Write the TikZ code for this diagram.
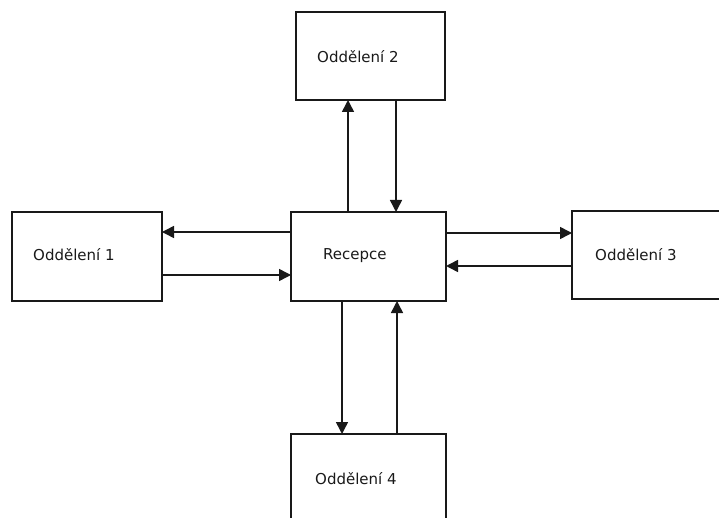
\documentclass[tikz,border=0pt]{standalone}
\usepackage{fontspec}
\setmainfont{DejaVu Sans}
\usetikzlibrary{arrows.meta}
\begin{document}
\begin{tikzpicture}[x=1pt,y=-1pt,
  box/.style={draw=black!90, line width=1.4pt, minimum width=#1, inner sep=0pt, outer sep=0pt, anchor=north west},
  lbl/.style={anchor=base west, inner sep=0pt, font=\fontsize{15}{18}\selectfont, text=black!90},
  conn/.style={draw=black!90, line width=1.5pt, -{Triangle[length=12pt,width=12pt]}}]
\useasboundingbox (0,0) rectangle (719,518);
\clip (0,0) rectangle (719,518);
% boxes
\node[box=149pt, minimum height=88pt] (o2) at (296,12) {};
\node[box=150pt, minimum height=89pt] (o1) at (12,212) {};
\node[box=155pt, minimum height=89pt] (rec) at (291,212) {};
\node[box=160pt, minimum height=88pt] (o3) at (572,211) {};
\node[box=155pt, minimum height=100pt] (o4) at (291,434) {};
% texts
\node[lbl] (t2) at (317,63) {Oddělení 2};
\node[lbl] (t1) at (33,261) {Oddělení 1};
\node[lbl] (tr) at (323,260) {Recepce};
\node[lbl] (t3) at (595,261) {Oddělení 3};
\node[lbl] (t4) at (315,484) {Oddělení 4};
% guide coordinates
\coordinate (xa) at (348,0);
\coordinate (xb) at (396,0);
\coordinate (xc) at (342,0);
\coordinate (xd) at (397,0);
\coordinate (ya) at (0,232);
\coordinate (yb) at (0,275);
\coordinate (yc) at (0,233);
\coordinate (yd) at (0,266);
% connectors
\draw[conn] (rec.north -| xa) -- (o2.south -| xa);
\draw[conn] (o2.south -| xb) -- (rec.north -| xb);
\draw[conn] (rec.west |- ya) -- (o1.east |- ya);
\draw[conn] (o1.east |- yb) -- (rec.west |- yb);
\draw[conn] (rec.east |- yc) -- (o3.west |- yc);
\draw[conn] (o3.west |- yd) -- (rec.east |- yd);
\draw[conn] (rec.south -| xc) -- (o4.north -| xc);
\draw[conn] (o4.north -| xd) -- (rec.south -| xd);
\end{tikzpicture}
\end{document}
